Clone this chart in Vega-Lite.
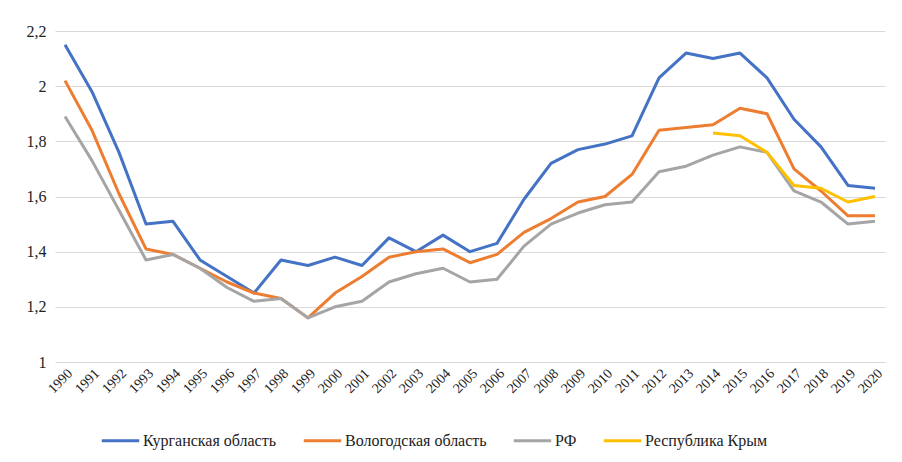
{
  "$schema": "https://vega.github.io/schema/vega-lite/v6.json",
  "autosize": {"type": "none"},
  "padding": {"left": 55, "top": 31, "right": 17, "bottom": 100},
  "width": 830,
  "height": 331,
  "background": "white",
  "config": {
    "view": {"stroke": null},
    "font": "serif"
  },
  "datasets": {
    "d": [
      {"year": "1990", "s": "Курганская область", "v": 2.15},
      {"year": "1991", "s": "Курганская область", "v": 1.98},
      {"year": "1992", "s": "Курганская область", "v": 1.76},
      {"year": "1993", "s": "Курганская область", "v": 1.50},
      {"year": "1994", "s": "Курганская область", "v": 1.51},
      {"year": "1995", "s": "Курганская область", "v": 1.37},
      {"year": "1996", "s": "Курганская область", "v": 1.31},
      {"year": "1997", "s": "Курганская область", "v": 1.25},
      {"year": "1998", "s": "Курганская область", "v": 1.37},
      {"year": "1999", "s": "Курганская область", "v": 1.35},
      {"year": "2000", "s": "Курганская область", "v": 1.38},
      {"year": "2001", "s": "Курганская область", "v": 1.35},
      {"year": "2002", "s": "Курганская область", "v": 1.45},
      {"year": "2003", "s": "Курганская область", "v": 1.40},
      {"year": "2004", "s": "Курганская область", "v": 1.46},
      {"year": "2005", "s": "Курганская область", "v": 1.40},
      {"year": "2006", "s": "Курганская область", "v": 1.43},
      {"year": "2007", "s": "Курганская область", "v": 1.59},
      {"year": "2008", "s": "Курганская область", "v": 1.72},
      {"year": "2009", "s": "Курганская область", "v": 1.77},
      {"year": "2010", "s": "Курганская область", "v": 1.79},
      {"year": "2011", "s": "Курганская область", "v": 1.82},
      {"year": "2012", "s": "Курганская область", "v": 2.03},
      {"year": "2013", "s": "Курганская область", "v": 2.12},
      {"year": "2014", "s": "Курганская область", "v": 2.10},
      {"year": "2015", "s": "Курганская область", "v": 2.12},
      {"year": "2016", "s": "Курганская область", "v": 2.03},
      {"year": "2017", "s": "Курганская область", "v": 1.88},
      {"year": "2018", "s": "Курганская область", "v": 1.78},
      {"year": "2019", "s": "Курганская область", "v": 1.64},
      {"year": "2020", "s": "Курганская область", "v": 1.63},

      {"year": "1990", "s": "Вологодская область", "v": 2.02},
      {"year": "1991", "s": "Вологодская область", "v": 1.84},
      {"year": "1992", "s": "Вологодская область", "v": 1.61},
      {"year": "1993", "s": "Вологодская область", "v": 1.41},
      {"year": "1994", "s": "Вологодская область", "v": 1.39},
      {"year": "1995", "s": "Вологодская область", "v": 1.34},
      {"year": "1996", "s": "Вологодская область", "v": 1.29},
      {"year": "1997", "s": "Вологодская область", "v": 1.25},
      {"year": "1998", "s": "Вологодская область", "v": 1.23},
      {"year": "1999", "s": "Вологодская область", "v": 1.16},
      {"year": "2000", "s": "Вологодская область", "v": 1.25},
      {"year": "2001", "s": "Вологодская область", "v": 1.31},
      {"year": "2002", "s": "Вологодская область", "v": 1.38},
      {"year": "2003", "s": "Вологодская область", "v": 1.40},
      {"year": "2004", "s": "Вологодская область", "v": 1.41},
      {"year": "2005", "s": "Вологодская область", "v": 1.36},
      {"year": "2006", "s": "Вологодская область", "v": 1.39},
      {"year": "2007", "s": "Вологодская область", "v": 1.47},
      {"year": "2008", "s": "Вологодская область", "v": 1.52},
      {"year": "2009", "s": "Вологодская область", "v": 1.58},
      {"year": "2010", "s": "Вологодская область", "v": 1.60},
      {"year": "2011", "s": "Вологодская область", "v": 1.68},
      {"year": "2012", "s": "Вологодская область", "v": 1.84},
      {"year": "2013", "s": "Вологодская область", "v": 1.85},
      {"year": "2014", "s": "Вологодская область", "v": 1.86},
      {"year": "2015", "s": "Вологодская область", "v": 1.92},
      {"year": "2016", "s": "Вологодская область", "v": 1.90},
      {"year": "2017", "s": "Вологодская область", "v": 1.70},
      {"year": "2018", "s": "Вологодская область", "v": 1.62},
      {"year": "2019", "s": "Вологодская область", "v": 1.53},
      {"year": "2020", "s": "Вологодская область", "v": 1.53},

      {"year": "1990", "s": "РФ", "v": 1.89},
      {"year": "1991", "s": "РФ", "v": 1.73},
      {"year": "1992", "s": "РФ", "v": 1.55},
      {"year": "1993", "s": "РФ", "v": 1.37},
      {"year": "1994", "s": "РФ", "v": 1.39},
      {"year": "1995", "s": "РФ", "v": 1.34},
      {"year": "1996", "s": "РФ", "v": 1.27},
      {"year": "1997", "s": "РФ", "v": 1.22},
      {"year": "1998", "s": "РФ", "v": 1.23},
      {"year": "1999", "s": "РФ", "v": 1.16},
      {"year": "2000", "s": "РФ", "v": 1.20},
      {"year": "2001", "s": "РФ", "v": 1.22},
      {"year": "2002", "s": "РФ", "v": 1.29},
      {"year": "2003", "s": "РФ", "v": 1.32},
      {"year": "2004", "s": "РФ", "v": 1.34},
      {"year": "2005", "s": "РФ", "v": 1.29},
      {"year": "2006", "s": "РФ", "v": 1.30},
      {"year": "2007", "s": "РФ", "v": 1.42},
      {"year": "2008", "s": "РФ", "v": 1.50},
      {"year": "2009", "s": "РФ", "v": 1.54},
      {"year": "2010", "s": "РФ", "v": 1.57},
      {"year": "2011", "s": "РФ", "v": 1.58},
      {"year": "2012", "s": "РФ", "v": 1.69},
      {"year": "2013", "s": "РФ", "v": 1.71},
      {"year": "2014", "s": "РФ", "v": 1.75},
      {"year": "2015", "s": "РФ", "v": 1.78},
      {"year": "2016", "s": "РФ", "v": 1.76},
      {"year": "2017", "s": "РФ", "v": 1.62},
      {"year": "2018", "s": "РФ", "v": 1.58},
      {"year": "2019", "s": "РФ", "v": 1.50},
      {"year": "2020", "s": "РФ", "v": 1.51},

      {"year": "2014", "s": "Республика Крым", "v": 1.83},
      {"year": "2015", "s": "Республика Крым", "v": 1.82},
      {"year": "2016", "s": "Республика Крым", "v": 1.76},
      {"year": "2017", "s": "Республика Крым", "v": 1.64},
      {"year": "2018", "s": "Республика Крым", "v": 1.63},
      {"year": "2019", "s": "Республика Крым", "v": 1.58},
      {"year": "2020", "s": "Республика Крым", "v": 1.60}
    ]
  },
  "data": {"name": "d"},
  "mark": {"type": "line", "strokeWidth": 3, "strokeJoin": "round"},
  "encoding": {
    "x": {
      "field": "year",
      "type": "ordinal",
      "scale": {"type": "point", "padding": 0.37},
      "axis": {
        "title": null,
        "labelAngle": -45,
        "labelFont": "serif",
        "labelFontSize": 14,
        "labelColor": "#222",
        "labelPadding": 4,
        "ticks": false,
        "domain": false,
        "grid": false
      }
    },
    "y": {
      "field": "v",
      "type": "quantitative",
      "scale": {"domain": [1, 2.2], "nice": false, "zero": false},
      "axis": {
        "title": null,
        "values": [1, 1.2, 1.4, 1.6, 1.8, 2, 2.2],
        "labelExpr": "replace(format(datum.value, '~g'), '.', ',')",
        "labelFont": "serif",
        "labelFontSize": 16,
        "labelColor": "#222",
        "labelPadding": 9,
        "ticks": false,
        "domain": false,
        "grid": true,
        "gridColor": "#d9d9d9",
        "gridWidth": 1
      }
    },
    "color": {
      "field": "s",
      "type": "nominal",
      "scale": {
        "domain": ["Курганская область", "Вологодская область", "РФ", "Республика Крым"],
        "range": ["#4472C4", "#ED7D31", "#A5A5A5", "#FFC000"]
      },
      "legend": {
        "title": null,
        "orient": "none",
        "legendX": 45,
        "legendY": 389,
        "direction": "horizontal",
        "symbolType": "stroke",
        "symbolStrokeWidth": 3,
        "symbolSize": 1400,
        "labelFont": "serif",
        "labelFontSize": 16,
        "labelColor": "#222",
        "labelOffset": 2,
        "columnPadding": 20
      }
    }
  }
}
